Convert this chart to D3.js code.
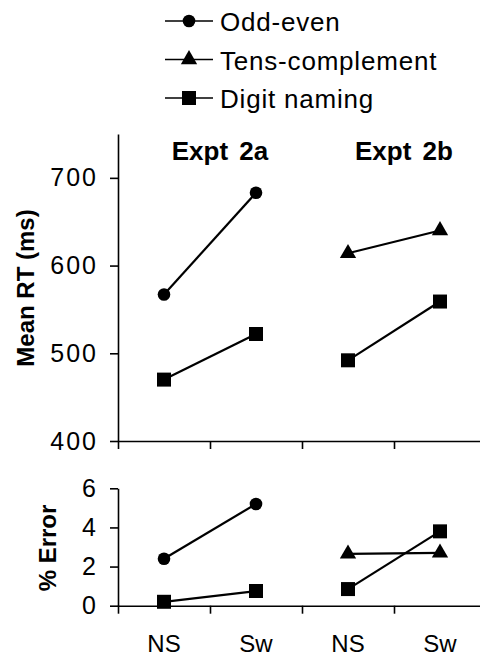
<!DOCTYPE html>
<html>
<head>
<meta charset="utf-8">
<script src="https://cdnjs.cloudflare.com/ajax/libs/d3/7.8.5/d3.min.js"></script>
<style>
  html, body { margin: 0; padding: 0; background: #fff; }
  svg { display: block; font-family: Arial, "Liberation Sans", Helvetica, sans-serif; }
</style>
</head>
<body>
<div id="chart"></div>
<script>
// data
const experiments = ["Expt 2a", "Expt 2b"];
const conditions = ["NS", "Sw"];
const tasks = ["Odd-even", "Tens-complement", "Digit naming"];

// mean RT (ms), [NS, Sw]
const oddEvenRT2a = [567, 683];
const digitNamingRT2a = [470, 522];
const tensComplementRT2b = [614, 640];
const digitNamingRT2b = [492, 559];

// % error, [NS, Sw]
const oddEvenErr2a = [2.4, 5.2];
const digitNamingErr2a = [0.2, 0.75];
const tensComplementErr2b = [2.65, 2.7];
const digitNamingErr2b = [0.85, 3.8];

const rtTicks = [400, 500, 600, 700];
const errTicks = [0, 2, 4, 6];

const series = [
  { task: "Odd-even", expt: "Expt 2a", rt: oddEvenRT2a, err: oddEvenErr2a },
  { task: "Digit naming", expt: "Expt 2a", rt: digitNamingRT2a, err: digitNamingErr2a },
  { task: "Tens-complement", expt: "Expt 2b", rt: tensComplementRT2b, err: tensComplementErr2b },
  { task: "Digit naming", expt: "Expt 2b", rt: digitNamingRT2b, err: digitNamingErr2b }
];

const width = 480, height = 658;
const svg = d3.select("#chart").append("svg").attr("width", width).attr("height", height);

const symbolFor = {
  "Odd-even": d3.symbol(d3.symbolCircle, 125),
  "Tens-complement": d3.symbol(d3.symbolTriangle, 115),
  "Digit naming": d3.symbol(d3.symbolSquare, 196)
};

// x: four slots, Expt x Condition
const slotKeys = experiments.flatMap(e => conditions.map(c => e + "|" + c));
const x = d3.scaleBand().domain(slotKeys).range([118, 486]);
const xEdges = d3.scaleLinear().domain([0, slotKeys.length]).range([118, 486]);
const xc = (expt, i) => x(expt + "|" + conditions[i]) + x.bandwidth() / 2;

const yRT = d3.scaleLinear().domain([400, 750]).range([441, 134]);
const yErr = d3.scaleLinear().domain([0, 6]).range([605.7, 488.3]);

function styleAxis(g, size) {
  g.selectAll("path.domain").attr("stroke", "#000").attr("stroke-width", 1.6);
  g.selectAll(".tick line").attr("stroke", "#000").attr("stroke-width", 1.6);
  g.selectAll(".tick text").attr("fill", "#000").attr("font-size", size)
    .attr("font-family", "Arial, 'Liberation Sans', sans-serif");
}

// top panel axes
svg.append("g").attr("transform", "translate(118,0)")
  .call(d3.axisLeft(yRT).tickValues(rtTicks).tickSize(8).tickSizeOuter(0).tickPadding(12))
  .call(g => styleAxis(g, 25))
  .call(g => g.selectAll(".tick text").attr("letter-spacing", 2));
svg.append("g").attr("transform", `translate(0,${yRT(400)})`)
  .call(d3.axisBottom(xEdges).tickValues(d3.range(slotKeys.length + 1)).tickFormat("").tickSize(8).tickSizeOuter(0))
  .call(g => styleAxis(g, 0));

// bottom panel axes
svg.append("g").attr("transform", "translate(118,0)")
  .call(d3.axisLeft(yErr).tickValues(errTicks).tickFormat(d3.format("d")).tickSize(8).tickSizeOuter(0).tickPadding(14))
  .call(g => styleAxis(g, 25));
svg.append("g").attr("transform", `translate(0,${yErr(0)})`)
  .call(d3.axisBottom(xEdges).tickValues(d3.range(slotKeys.length + 1)).tickFormat("").tickSize(8).tickSizeOuter(0))
  .call(g => styleAxis(g, 0));

// condition labels
svg.append("g").attr("transform", `translate(0,${yErr(0)})`)
  .call(d3.axisBottom(x).tickSize(0).tickPadding(29).tickFormat(k => k.split("|")[1]))
  .call(g => g.select("path.domain").remove())
  .call(g => styleAxis(g, 24));

// panel titles
svg.selectAll(".expt-title").data(experiments).join("text")
  .attr("class", "expt-title")
  .attr("x", e => x(e + "|NS") + x.bandwidth() + 10)
  .attr("y", 160)
  .attr("text-anchor", "middle")
  .attr("font-size", 26).attr("font-weight", "bold")
  .attr("word-spacing", 4)
  .text(d => d);

// axis titles
svg.append("text")
  .attr("transform", "translate(34,288) rotate(-90)")
  .attr("text-anchor", "middle")
  .attr("font-size", 24).attr("font-weight", "bold")
  .text("Mean RT (ms)");
svg.append("text")
  .attr("transform", "translate(56,548) rotate(-90)")
  .attr("text-anchor", "middle")
  .attr("font-size", 24).attr("font-weight", "bold")
  .text("% Error");

// lines + markers
function drawPanel(y, key) {
  const g = svg.append("g");
  series.forEach(s => {
    const pts = s[key].map((v, i) => [xc(s.expt, i), y(v)]);
    g.append("path")
      .attr("d", d3.line()(pts))
      .attr("fill", "none").attr("stroke", "#000").attr("stroke-width", 2.2);
    g.selectAll(null).data(pts).join("path")
      .attr("transform", p => `translate(${p[0]},${p[1]})`)
      .attr("d", symbolFor[s.task]())
      .attr("fill", "#000");
  });
}
drawPanel(yRT, "rt");
drawPanel(yErr, "err");

// legend
const legend = svg.append("g");
const legendY = d3.scalePoint().domain(tasks).range([21, 98]);
tasks.forEach(t => {
  const row = legend.append("g").attr("transform", `translate(0,${legendY(t)})`);
  row.append("line").attr("x1", 165).attr("x2", 213)
    .attr("stroke", "#000").attr("stroke-width", 1.6);
  row.append("path").attr("transform", "translate(189,0)")
    .attr("d", symbolFor[t]()).attr("fill", "#000");
  row.append("text").attr("x", 220).attr("y", 10)
    .attr("font-size", 26).attr("letter-spacing", 0.8)
    .text(t);
});
</script>
</body>
</html>
